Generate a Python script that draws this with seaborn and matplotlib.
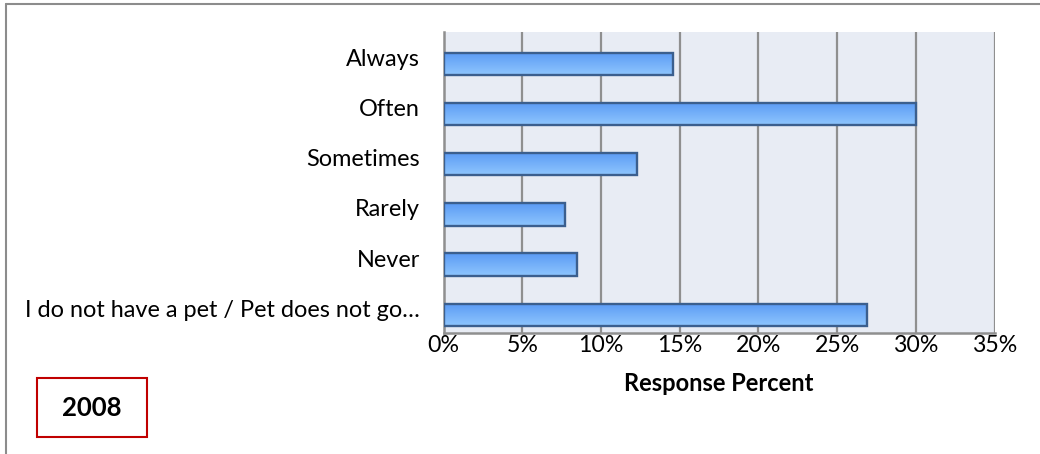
import numpy as np
import pandas as pd
import matplotlib
matplotlib.use("Agg")
import matplotlib.pyplot as plt
from matplotlib.colors import LinearSegmentedColormap
from matplotlib.patches import Rectangle
from matplotlib.lines import Line2D
import seaborn as sns

# Survey answers and the share of respondents for each
categories = [
    "Always",
    "Often",
    "Sometimes",
    "Rarely",
    "Never",
    "I do not have a pet / Pet does not go\u2026",
]
percent = [14.6, 30.0, 12.3, 7.7, 8.5, 26.9]
x_ticks = [0, 5, 10, 15, 20, 25, 30, 35]
x_tick_labels = ["0%", "5%", "10%", "15%", "20%", "25%", "30%", "35%"]
x_title = "Response Percent"
year_label = "2008"

df = pd.DataFrame({"answer": categories, "percent": percent})

sns.set_theme(style="white")
plt.rcParams["font.family"] = ["Lato", "DejaVu Sans"]

W, H = 1040, 454
fig = plt.figure(figsize=(W / 100, H / 100), dpi=100)
fig.patch.set_facecolor("white")

left, right, top, bottom = 443.5, 994.5, 32.3, 333.3
ax = fig.add_axes([left / W, 1 - bottom / H, (right - left) / W, (bottom - top) / H])
ax.set_facecolor("#e8ecf4")

sns.barplot(data=df, y="answer", x="percent", orient="h", width=0.445,
            color="#6fa8f8", ax=ax, zorder=3)

# Vertical gradient fill for each bar, clipped to the bar outline
grad = LinearSegmentedColormap.from_list("barfill", ["#5b9af4", "#8ec6fe"])
gradient = np.linspace(0, 1, 64).reshape(-1, 1)
for p in ax.patches:
    x0, y0, w, h = p.get_x(), p.get_y(), p.get_width(), p.get_height()
    im = ax.imshow(gradient, cmap=grad, aspect="auto", origin="upper",
                   extent=(x0, x0 + w, y0 + h, y0), zorder=3, interpolation="bilinear")
    im.set_clip_path(p)
    p.set_facecolor("none")
    p.set_edgecolor("#3b5f8e")
    p.set_linewidth(1.7)
    p.set_zorder(4)

# Category bands sit slightly above each bar
shift = 0.13
ax.set_ylim(len(categories) - 0.5 - shift, -0.5 - shift)
ax.set_yticks(np.arange(len(categories)) - shift)
ax.set_yticklabels(categories)
ax.set_xlim(0, 35)
ax.set_xticks(x_ticks)
ax.set_xticklabels(x_tick_labels)

ax.grid(False)
for xv in x_ticks[1:]:
    ax.axvline(xv, color="#8f8f8f", lw=1.6, zorder=1)

for side in ["top", "right"]:
    ax.spines[side].set_visible(False)
for side in ["left", "bottom"]:
    ax.spines[side].set_visible(True)
    ax.spines[side].set_color("#8f8f8f")
    ax.spines[side].set_linewidth(1.8)

ax.tick_params(axis="y", length=0, pad=17, labelsize=16.9, labelcolor="black")
ax.tick_params(axis="x", length=0, pad=1.5, labelsize=16.7, labelcolor="black")
ax.set_ylabel("")
ax.set_xlabel(x_title, fontsize=17, fontweight="bold", labelpad=11, color="black")

# Outer frame of the chart area
fig.add_artist(Line2D([6 / W, 6 / W], [0, 1 - 4 / H], transform=fig.transFigure,
                      color="#8c8c8c", lw=1.5))
fig.add_artist(Line2D([6 / W, 1], [1 - 4 / H, 1 - 4 / H], transform=fig.transFigure,
                      color="#8c8c8c", lw=1.5))

# Year badge
fig.add_artist(Rectangle((37 / W, 1 - 437 / H), 110 / W, 59 / H, transform=fig.transFigure,
                         facecolor="white", edgecolor="#c00000", lw=1.5))
fig.text(92 / W, 1 - 407.5 / H, year_label, ha="center", va="center",
         fontsize=18.5, fontweight="bold", color="black")

fig.savefig("out.png", dpi=100, facecolor="white")
